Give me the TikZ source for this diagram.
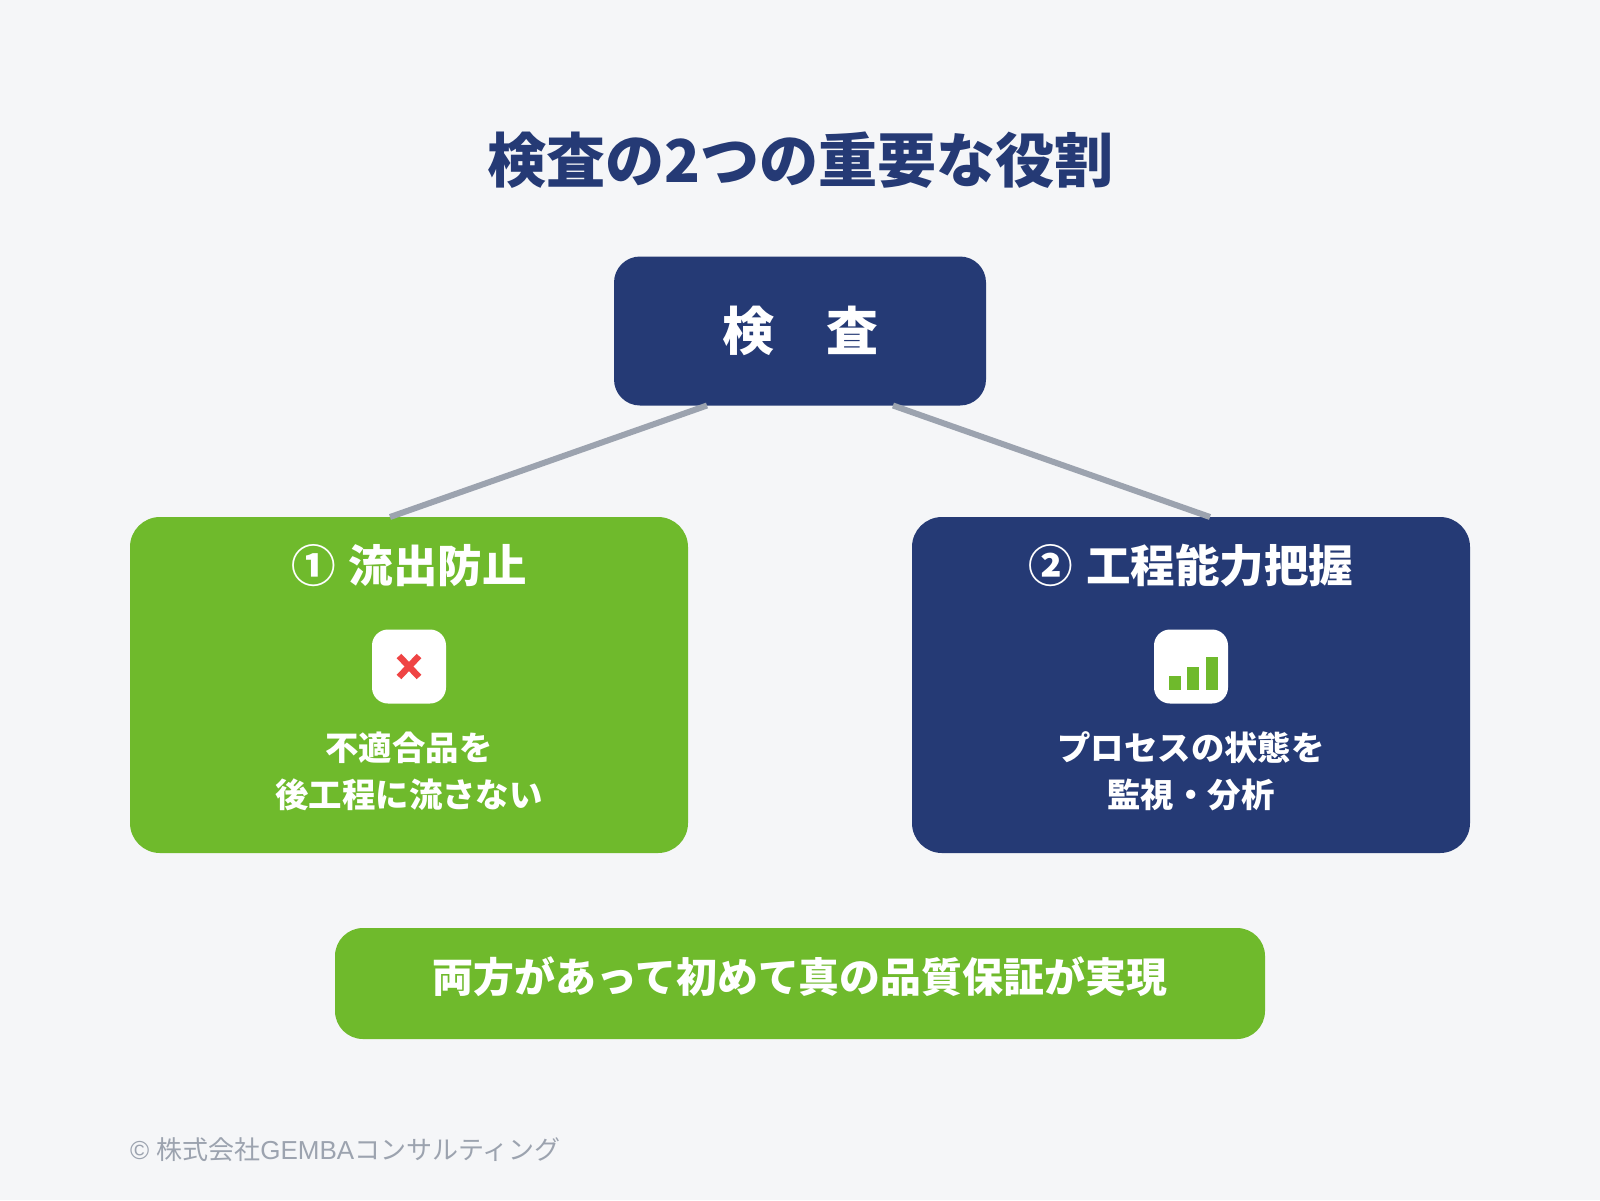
\documentclass[tikz,border=0pt]{standalone}
\usepackage{fontspec}
\usepackage{xcolor}
\usetikzlibrary{positioning, calc}
\setmainfont{Noto Sans CJK JP}
\newfontfamily\footlatin{Liberation Sans}
\definecolor{gmnavy}{HTML}{253A75}
\definecolor{gmgreen}{HTML}{6FBA2C}
\definecolor{gmgray}{HTML}{9CA3AF}
\definecolor{gmred}{HTML}{EF4444}
\definecolor{gmpage}{HTML}{F5F6F8}

\begin{document}
\begin{tikzpicture}[
  x=0.5pt, y=-0.5pt,
  every node/.style={inner sep=0pt, outer sep=0pt},
  card/.style={rectangle, rounded corners=15pt, fill=#1, minimum width=279pt, minimum height=168pt},
  cardhead/.style={text=white, font=\fontsize{22.25}{26}\selectfont\bfseries},
  carddesc/.style={text=white, align=center, font=\fontsize{16.7}{23.5}\selectfont\bfseries},
  iconbox/.style={rectangle, rounded corners=8pt, fill=white, minimum width=37pt, minimum height=37pt},
  link/.style={draw=gmgray, line width=3pt},
  iconbar/.style={fill=gmgreen},
]
\fill[gmpage] (0,0) rectangle (1600,1200);

\node[text=gmnavy, font=\fontsize{29.55}{34}\selectfont\bfseries] (title) at (800.5,160) {検査の2つの重要な役割};

\node[rectangle, rounded corners=13pt, fill=gmnavy, minimum width=186pt, minimum height=74.5pt, text=white, font=\fontsize{26}{30}\selectfont\bfseries] (kensa) at (800,331) {検　査};

\node[card=gmgreen] (leftcard) at (409,685) {};
\node[card=gmnavy, right=112pt of leftcard] (rightcard) {};

% Links from the main box
\draw[link] ($(kensa.south)+(-93,0)$) -- ($(leftcard.north)+(-19,0)$);
\draw[link] ($(kensa.south)+(93,0)$) -- ($(rightcard.north)+(19,0)$);

\node[cardhead] (lefthead) at (409,566) {①\hspace{1.5pt} 流出防止};
\node[cardhead] (righthead) at (1191,566) {②\hspace{1.5pt} 工程能力把握};

\node[iconbox] (lefticon) at (409,666.5) {};
\node[iconbox] (righticon) at (1191,666.5) {};

\draw[gmred, line width=3.2pt] (399,656) -- (419,677);
\draw[gmred, line width=3.2pt] (419,656) -- (399,677);
\fill[iconbar] (1169,676) rectangle (1181,690);
\fill[iconbar] (1187,667) rectangle (1199,690);
\fill[iconbar] (1206,657) rectangle (1218,690);

\node[carddesc] (leftdesc) at (409,771) {不適合品を\\後工程に流さない};
\node[carddesc] (rightdesc) at (1191,771) {プロセスの状態を\\監視・分析};

\node[rectangle, rounded corners=14pt, fill=gmgreen, minimum width=465pt, minimum height=55.5pt] (result) at (800,983.5) {};
\node[text=white, font=\fontsize{20.45}{24}\selectfont\bfseries] (resulttext) at (800,977) {両方があって初めて真の品質保証が実現};

\node[anchor=west, text=gmgray, font=\fontsize{13}{16}\selectfont] (footer) at (130,1150) {{\footlatin © }株式会社{\footlatin GEMBA}コンサルティング};
\end{tikzpicture}
\end{document}
